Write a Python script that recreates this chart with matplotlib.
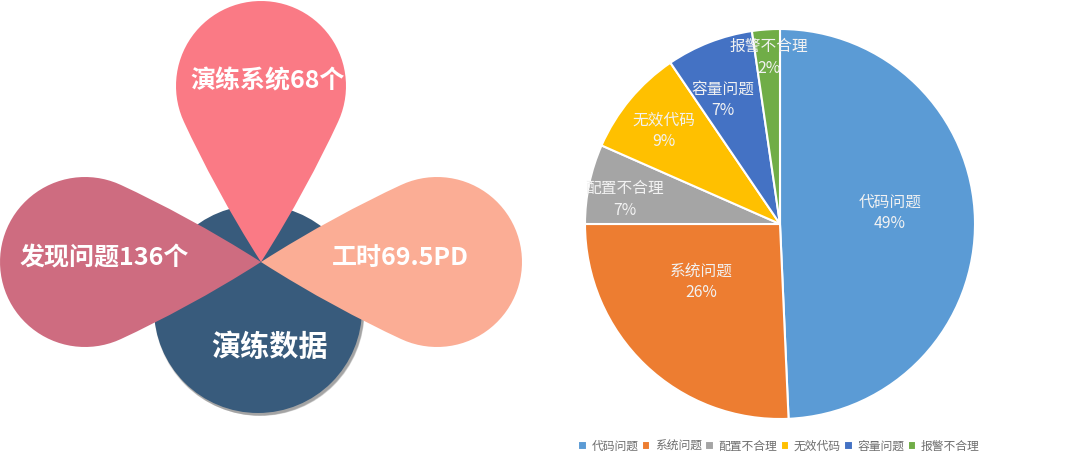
import numpy as np
import matplotlib
matplotlib.use("Agg")
import matplotlib.pyplot as plt
from matplotlib.patches import Circle, PathPatch
from matplotlib.path import Path

plt.rcParams["font.family"] = ["Noto Sans CJK SC", "DejaVu Sans"]

# 左边的花瓣
petal_labels = ["演练系统68个", "工时69.5PD", "发现问题136个"]
petal_colors = ["#FA7A85", "#FBAD95", "#CE6C80"]
petal_angles = [90, 0, 180]
petal_text_xy = [(268, 81), (400, 258), (104, 258)]
center_label = "演练数据"

# 右边的饼图
categories = ["代码问题", "系统问题", "配置不合理", "无效代码", "容量问题", "报警不合理"]
shares = [49.3, 25.7, 6.6, 8.9, 7.2, 2.3]
pie_colors = ["#5B9BD5", "#ED7D31", "#A5A5A5", "#FFC000", "#4472C4", "#70AD47"]
pie_text_xy = [(890, 212.5), (701, 281.5), (625, 199.5), (664, 131), (723, 99.5), (769, 57.5)]

W, H = 1080, 463
PIE_X, PIE_Y, PIE_R = 780, 224, 195
TIP = np.array([261.0, 262.0])


def teardrop(angle):
    # 尖端在 TIP，圆心距离 176，半径 85
    d, r = 176.0, 85.0
    a = np.deg2rad(65)
    # 局部坐标：x 轴从尖端指向圆心
    tx, ty = d - r * np.cos(a), r * np.sin(a)
    c1 = (50, 32)
    c2 = (tx - 45 * np.sin(a), ty - 45 * np.cos(a))
    verts = [(0, 0), c1, c2, (tx, ty)]
    codes = [Path.MOVETO, Path.CURVE4, Path.CURVE4, Path.CURVE4]
    steps = np.deg2rad(np.linspace(180 - 65, -180 + 65, 60))
    for s in steps:
        verts.append((d + r * np.cos(s), r * np.sin(s)))
        codes.append(Path.LINETO)
    verts += [(c2[0], -c2[1]), (c1[0], -c1[1]), (0, 0)]
    codes += [Path.CURVE4, Path.CURVE4, Path.CURVE4]
    verts = np.array(verts)
    th = np.deg2rad(angle)
    rot = np.array([[np.cos(th), -np.sin(th)], [np.sin(th), np.cos(th)]])
    pts = verts @ rot.T
    # y 轴朝下
    pts[:, 1] = TIP[1] - pts[:, 1]
    pts[:, 0] = TIP[0] + pts[:, 0]
    return Path(pts, codes)


fig = plt.figure(figsize=(W / 100, H / 100), dpi=100, facecolor="white")
ax = fig.add_axes([0, 0, 1, 1])
ax.set_xlim(0, W)
ax.set_ylim(H, 0)
ax.axis("off")

# 中间的圆和阴影
for i in range(6):
    ax.add_patch(Circle((259 + i * 0.3, 310.5 + i * 0.3), 105 - i * 0.2,
                        fc="#333333", ec="none", alpha=0.09))
ax.add_patch(Circle((258, 309), 104, fc="#385B7C", ec="none"))

for ang, col in zip(petal_angles, petal_colors):
    ax.add_patch(PathPatch(teardrop(ang), fc=col, ec="none"))

for txt, (x, y) in zip(petal_labels, petal_text_xy):
    ax.text(x, y, txt, color="white", fontsize=18, fontweight="bold", ha="center", va="center")
ax.text(270, 347, center_label, color="white", fontsize=21, fontweight="bold", ha="center", va="center")

# 饼图
pie_ax = fig.add_axes([(PIE_X - PIE_R) / W, 1 - (PIE_Y + PIE_R) / H, 2 * PIE_R / W, 2 * PIE_R / H])
wedges, _ = pie_ax.pie(shares, colors=pie_colors, startangle=90, counterclock=False, radius=1,
                       wedgeprops={"edgecolor": "white", "linewidth": 1.5})
pie_ax.set_xlim(-1, 1)
pie_ax.set_ylim(-1, 1)
for c, s, (x, y) in zip(categories, shares, pie_text_xy):
    ax_x = (x - PIE_X) / PIE_R
    ax_y = (PIE_Y - y) / PIE_R
    pie_ax.text(ax_x, ax_y, f"{c}\n{round(s)}%", color="#F2F2F2", fontsize=11.3, ha="center", va="center",
                linespacing=1.35, clip_on=False)

fig.legend(wedges, categories, loc="center", bbox_to_anchor=(779 / W, 1 - 446 / H), ncol=6, frameon=False,
           fontsize=8.5, labelcolor="#6E6E6E", handlelength=0.7, handleheight=0.7, handletextpad=0.4,
           columnspacing=0.3, borderpad=0, borderaxespad=0)

fig.savefig("out.png", dpi=100)
